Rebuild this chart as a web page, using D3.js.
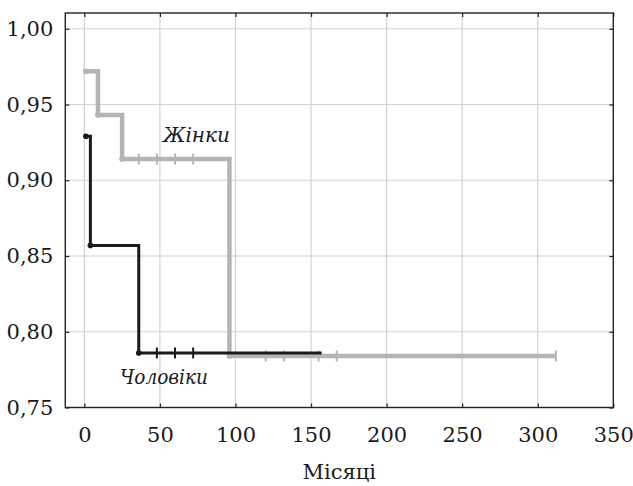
<!DOCTYPE html>
<html>
<head>
<meta charset="utf-8">
<script src="https://cdn.jsdelivr.net/npm/d3@7"></script>
<style>
  body { margin: 0; background: #fff; }
  svg text { font-family: 'DejaVu Serif', 'Liberation Serif', 'Noto Serif', Tinos, serif; }
</style>
</head>
<body>
<div id="chart"></div>
<script>
// Kaplan-Meier curves
const xTicks = [0, 50, 100, 150, 200, 250, 300, 350];
const yTicks = [0.75, 0.80, 0.85, 0.90, 0.95, 1.00];

// women (grey)
const womenTimes = [1, 9, 25, 96];
const womenSurv = [0.972, 0.943, 0.914, 0.784];
const womenEnd = 312;
const womenCensored = [36, 48, 60, 72, 120, 132, 155, 167, 312];

// men (black)
const menTimes = [1, 4, 36];
const menSurv = [0.929, 0.857, 0.786];
const menEnd = 157;
const menCensored = [48, 60, 72];

const W = 633, H = 486;
const frame = {left: 65.3, right: 613.3, top: 13, bottom: 407.5};

const x = d3.scaleLinear().domain([-12.6, 350]).range([frame.left, frame.right]);
const y = d3.scaleLinear().domain([0.75, 1.0104]).range([frame.bottom, frame.top]);

const svg = d3.select('#chart').append('svg')
  .attr('width', W)
  .attr('height', H);

// grid
svg.append('g')
  .selectAll('line')
  .data(xTicks.filter(d => d < 350))
  .enter().append('line')
    .attr('x1', d => x(d)).attr('x2', d => x(d))
    .attr('y1', frame.top).attr('y2', frame.bottom)
    .attr('stroke', '#d2d2d2').attr('stroke-width', 1.2);

svg.append('g')
  .selectAll('line')
  .data(yTicks.filter(d => d > 0.75))
  .enter().append('line')
    .attr('x1', frame.left).attr('x2', frame.right)
    .attr('y1', d => y(d)).attr('y2', d => y(d))
    .attr('stroke', '#d2d2d2').attr('stroke-width', 1.2);

// axes (ticks inside, on all four sides)
const fmt = d => d3.format('.2f')(d).replace('.', ',');

const bottomAxis = svg.append('g')
  .attr('transform', 'translate(0,' + frame.bottom + ')')
  .call(d3.axisBottom(x).tickValues(xTicks).tickSizeInner(-4).tickSizeOuter(0).tickPadding(20));
const leftAxis = svg.append('g')
  .attr('transform', 'translate(' + frame.left + ',0)')
  .call(d3.axisLeft(y).tickValues(yTicks).tickFormat(fmt).tickSizeInner(-4).tickSizeOuter(0).tickPadding(12));
const topAxis = svg.append('g')
  .attr('transform', 'translate(0,' + frame.top + ')')
  .call(d3.axisTop(x).tickValues(xTicks).tickSizeInner(-4).tickSizeOuter(0).tickFormat(''));
const rightAxis = svg.append('g')
  .attr('transform', 'translate(' + frame.right + ',0)')
  .call(d3.axisRight(y).tickValues(yTicks).tickSizeInner(-4).tickSizeOuter(0).tickFormat(''));

[bottomAxis, leftAxis, topAxis, rightAxis].forEach(a => {
  a.attr('font-family', null).attr('font-size', 21);
  a.select('.domain').remove();
  a.selectAll('line').attr('stroke', '#222').attr('stroke-width', 1.2);
  a.selectAll('text').attr('fill', '#1a1a1a');
});

svg.append('rect')
  .attr('x', frame.left).attr('y', frame.top)
  .attr('width', frame.right - frame.left)
  .attr('height', frame.bottom - frame.top)
  .attr('fill', 'none').attr('stroke', '#222').attr('stroke-width', 1.4);

// curves
const stepLine = d3.line()
  .x(d => x(d[0]))
  .y(d => y(d[1]))
  .curve(d3.curveStepAfter);

function drawCurve(times, surv, end, censored, color, width, dotR) {
  const pts = times.map((t, i) => [t, surv[i]]);
  pts.push([end, surv[surv.length - 1]]);

  const g = svg.append('g');

  g.append('path')
    .datum(pts)
    .attr('d', stepLine)
    .attr('fill', 'none')
    .attr('stroke', color)
    .attr('stroke-width', width)
    .attr('stroke-linejoin', 'miter');

  // surviving fraction at a censor time
  const survAt = t => {
    let s = surv[0];
    times.forEach((tt, i) => { if (t >= tt) s = surv[i]; });
    return s;
  };

  g.selectAll('line.cens')
    .data(censored)
    .enter().append('line')
      .attr('class', 'cens')
      .attr('x1', d => x(d)).attr('x2', d => x(d))
      .attr('y1', d => y(survAt(d)) - 5.5)
      .attr('y2', d => y(survAt(d)) + 5.5)
      .attr('stroke', color)
      .attr('stroke-width', 2);

  g.selectAll('circle')
    .data(pts.slice(0, -1))
    .enter().append('circle')
      .attr('cx', d => x(d[0]))
      .attr('cy', d => y(d[1]))
      .attr('r', dotR)
      .attr('fill', color);
}

drawCurve(womenTimes, womenSurv, womenEnd, womenCensored, '#b4b4b4', 4.5, 2.8);
drawCurve(menTimes, menSurv, menEnd, menCensored, '#1a1a1a', 3, 2.8);

// labels
svg.append('text')
  .attr('x', 163).attr('y', 142)
  .attr('font-size', 20).attr('font-style', 'italic')
  .attr('fill', '#1a1a1a')
  .text('Жінки');

svg.append('text')
  .attr('x', 120).attr('y', 384)
  .attr('font-size', 20).attr('font-style', 'italic')
  .attr('textLength', 88).attr('lengthAdjust', 'spacingAndGlyphs')
  .attr('fill', '#1a1a1a')
  .text('Чоловіки');

svg.append('text')
  .attr('x', (frame.left + frame.right) / 2).attr('y', 479)
  .attr('text-anchor', 'middle')
  .attr('font-size', 21)
  .attr('fill', '#1a1a1a')
  .text('Місяці');
</script>
</body>
</html>
